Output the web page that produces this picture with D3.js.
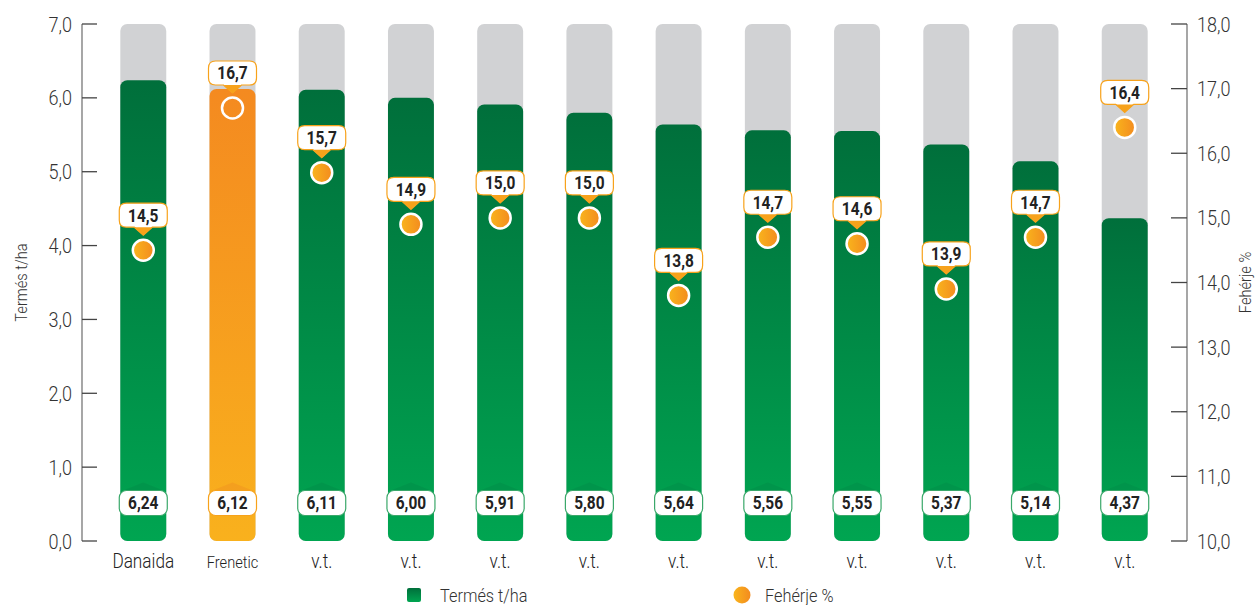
<!DOCTYPE html>
<html>
<head>
<meta charset="utf-8">
<script src="https://cdn.jsdelivr.net/npm/d3@7"></script>
<style>
  body { margin: 0; background: #fff; }
  text { font-family: Roboto, "Liberation Sans", sans-serif; }
</style>
</head>
<body>
<svg id="chart" width="1256" height="605"></svg>
<script>
// chart data
const varieties = ['Danaida', 'Frenetic', 'v.t.', 'v.t.', 'v.t.', 'v.t.', 'v.t.', 'v.t.', 'v.t.', 'v.t.', 'v.t.', 'v.t.'];
const yieldValues = [6.24, 6.12, 6.11, 6.00, 5.91, 5.80, 5.64, 5.56, 5.55, 5.37, 5.14, 4.37];
const proteinValues = [14.5, 16.7, 15.7, 14.9, 15.0, 15.0, 13.8, 14.7, 14.6, 13.9, 14.7, 16.4];
const yieldTicks = [0, 1, 2, 3, 4, 5, 6, 7];
const proteinTicks = [10, 11, 12, 13, 14, 15, 16, 17, 18];

const fmt = (v, d) => v.toFixed(d).replace('.', ',');
// the original uses a condensed face, so squeeze the text horizontally
const SQ = 0.86;
const at = (x, y, rot) => `translate(${x},${y})` + (rot ? ` rotate(${rot})` : '') + ` scale(${SQ},1)`;

const svg = d3.select('#chart');
const plotTop = 24, plotBottom = 541;

const x = d3.scaleBand()
  .domain(d3.range(varieties.length))
  .range([98, 1170])
  .paddingInner(0.485)
  .paddingOuter(0.25);
const yLeft = d3.scaleLinear().domain([0, 7]).range([plotBottom, plotTop]);
const yRight = d3.scaleLinear().domain([10, 18]).range([plotBottom, plotTop]);

// gradients
const defs = svg.append('defs');
function vGrad(id, c1, c2) {
  const g = defs.append('linearGradient').attr('id', id)
    .attr('x1', 0).attr('y1', 0).attr('x2', 0).attr('y2', 1);
  g.append('stop').attr('offset', '0%').attr('stop-color', c1);
  g.append('stop').attr('offset', '100%').attr('stop-color', c2);
}
vGrad('gGreen', '#006f3b', '#00a551');
vGrad('gOrange', '#f48a20', '#f9b11d');
const dotGrad = defs.append('linearGradient').attr('id', 'gDot')
  .attr('x1', 0).attr('y1', 0).attr('x2', 1).attr('y2', 0);
dotGrad.append('stop').attr('offset', '0%').attr('stop-color', '#f9b51c');
dotGrad.append('stop').attr('offset', '100%').attr('stop-color', '#f38b1f');

// left axis
const leftAxis = svg.append('g').attr('transform', 'translate(82,0)');
leftAxis.append('line').attr('x1', 0).attr('x2', 0).attr('y1', plotTop).attr('y2', plotBottom)
  .attr('stroke', '#777').attr('stroke-width', 1.3);
leftAxis.selectAll('g.tick').data(yieldTicks).join('g')
  .attr('class', 'tick')
  .attr('transform', d => `translate(0,${yLeft(d)})`)
  .each(function(d) {
    const g = d3.select(this);
    g.append('line').attr('x2', 15).attr('stroke', '#444').attr('stroke-width', 1.3);
    g.append('text').attr('transform', at(-10, 0)).attr('dy', '0.36em').attr('text-anchor', 'end')
      .attr('font-size', 21).attr('font-weight', 300).attr('fill', '#333').text(fmt(d, 1));
  });
svg.append('text')
  .attr('transform', at(27, (plotTop + plotBottom) / 2, -90))
  .attr('text-anchor', 'middle').attr('font-size', 17).attr('font-weight', 300).attr('fill', '#333')
  .text('Termés t/ha');

// right axis
const rightAxis = svg.append('g').attr('transform', 'translate(1187,0)');
rightAxis.append('line').attr('x1', 0).attr('x2', 0).attr('y1', plotTop).attr('y2', plotBottom)
  .attr('stroke', '#777').attr('stroke-width', 1.3);
rightAxis.selectAll('g.tick').data(proteinTicks).join('g')
  .attr('class', 'tick')
  .attr('transform', d => `translate(0,${yRight(d)})`)
  .each(function(d) {
    const g = d3.select(this);
    g.append('line').attr('x2', -16).attr('stroke', '#444').attr('stroke-width', 1.3);
    g.append('text').attr('transform', at(10, 0)).attr('dy', '0.36em').attr('text-anchor', 'start')
      .attr('font-size', 21).attr('font-weight', 300).attr('fill', '#333').text(fmt(d, 1));
  });
svg.append('text')
  .attr('transform', at(1251, (plotTop + plotBottom) / 2, -90))
  .attr('text-anchor', 'middle').attr('font-size', 17).attr('font-weight', 300).attr('fill', '#333')
  .text('Fehérje %');

// bars
const bw = x.bandwidth();
const bars = svg.append('g').selectAll('g.bar')
  .data(varieties.map((name, i) => ({ name, i, yield: yieldValues[i], protein: proteinValues[i] })))
  .join('g').attr('class', 'bar');

bars.append('rect')
  .attr('x', d => x(d.i)).attr('y', plotTop)
  .attr('width', bw).attr('height', plotBottom - plotTop)
  .attr('rx', 7).attr('fill', '#d1d2d4');

bars.append('rect')
  .attr('x', d => x(d.i)).attr('y', d => yLeft(d.yield))
  .attr('width', bw).attr('height', d => plotBottom - yLeft(d.yield))
  .attr('rx', 7)
  .attr('fill', d => d.name === 'Frenetic' ? 'url(#gOrange)' : 'url(#gGreen)');

// yield value labels at bottom of bars
const lw = 48, lh = 25, ly = 503;
bars.append('path')
  .attr('d', d => {
    const cx = x(d.i) + bw / 2;
    return `M${cx - 20},${ly - lh / 2} L${cx},${ly - lh / 2 - 8} L${cx + 20},${ly - lh / 2} Z`;
  })
  .attr('fill', d => d.name === 'Frenetic' ? '#f29a1f' : '#00914a')
  .attr('opacity', 0.7);
bars.append('rect')
  .attr('x', d => x(d.i) + bw / 2 - lw / 2).attr('y', ly - lh / 2)
  .attr('width', lw).attr('height', lh).attr('rx', 7)
  .attr('fill', '#fff')
  .attr('stroke', d => d.name === 'Frenetic' ? '#f7a21b' : '#3aa86a')
  .attr('stroke-width', 1.2);
bars.append('text')
  .attr('transform', d => at(x(d.i) + bw / 2, ly)).attr('dy', '0.36em')
  .attr('text-anchor', 'middle').attr('font-size', 18).attr('font-weight', 'bold')
  .attr('fill', '#222')
  .text(d => fmt(d.yield, 2));

// category labels
bars.append('text')
  .attr('transform', d => at(x(d.i) + bw / 2, 568))
  .attr('text-anchor', 'middle')
  .attr('font-size', d => d.name === 'Frenetic' ? 17 : 20)
  .attr('font-weight', 300)
  .attr('fill', '#222')
  .text(d => d.name);

// protein points with callouts
const pw = 48, ph = 24, off = 35;
bars.append('path')
  .attr('d', d => {
    const cx = x(d.i) + bw / 2, cy = yRight(d.protein) - off;
    const l = cx - pw / 2, r = cx + pw / 2, t = cy - ph / 2, b = cy + ph / 2, rr = 7;
    return `M${l + rr},${t} H${r - rr} Q${r},${t} ${r},${t + rr} V${b - rr} Q${r},${b} ${r - rr},${b}` +
      ` H${cx + 9} L${cx},${b + 8} L${cx - 9},${b} H${l + rr} Q${l},${b} ${l},${b - rr} V${t + rr} Q${l},${t} ${l + rr},${t} Z`;
  })
  .attr('fill', '#fff').attr('stroke', '#f7a21b').attr('stroke-width', 1.2);
bars.append('path')
  .attr('d', d => {
    const cx = x(d.i) + bw / 2, b = yRight(d.protein) - off + ph / 2;
    return `M${cx - 9},${b} L${cx},${b + 8} L${cx + 9},${b} Z`;
  })
  .attr('fill', '#f7a21b');
bars.append('text')
  .attr('transform', d => at(x(d.i) + bw / 2, yRight(d.protein) - off))
  .attr('dy', '0.36em').attr('text-anchor', 'middle')
  .attr('font-size', 18).attr('font-weight', 'bold').attr('fill', '#222')
  .text(d => fmt(d.protein, 1));
bars.append('circle')
  .attr('cx', d => x(d.i) + bw / 2).attr('cy', d => yRight(d.protein))
  .attr('r', 10.5)
  .attr('fill', d => d.name === 'Frenetic' ? 'none' : 'url(#gDot)')
  .attr('stroke', '#fff').attr('stroke-width', 2.5);

// legend
const legend = svg.append('g');
legend.append('rect').attr('x', 407).attr('y', 588).attr('width', 14).attr('height', 14)
  .attr('rx', 2).attr('fill', 'url(#gGreen)');
legend.append('text').attr('transform', at(440, 595)).attr('dy', '0.36em')
  .attr('font-size', 19).attr('font-weight', 300).attr('fill', '#333').text('Termés t/ha');
legend.append('circle').attr('cx', 742).attr('cy', 595).attr('r', 8.5).attr('fill', 'url(#gDot)');
legend.append('text').attr('transform', at(765, 595)).attr('dy', '0.36em')
  .attr('font-size', 19).attr('font-weight', 300).attr('fill', '#333').text('Fehérje %');
</script>
</body>
</html>
